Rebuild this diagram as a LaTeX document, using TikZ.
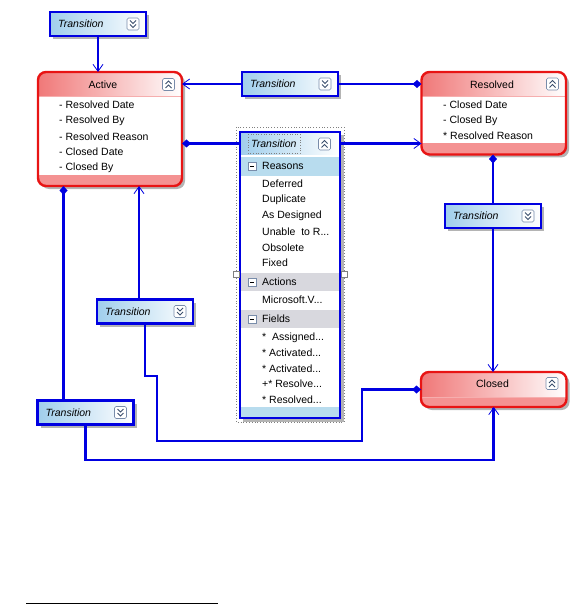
\documentclass[tikz,border=0pt]{standalone}
\usepackage{fontspec}
\setmainfont{Liberation Sans}
\usetikzlibrary{arrows.meta,shadows,fit}

\definecolor{lblue}{RGB}{0,0,225}
\definecolor{tblue}{RGB}{160,206,236}
\definecolor{sblue}{RGB}{184,220,238}
\definecolor{sgray}{RGB}{216,216,222}
\definecolor{rborder}{RGB}{232,20,20}
\definecolor{rhead}{RGB}{240,120,120}
\definecolor{rstrip}{RGB}{244,146,146}
\definecolor{shgray}{RGB}{180,180,180}
\definecolor{iconb}{RGB}{120,140,170}
\definecolor{chev}{RGB}{60,80,110}

% double chevron icon: x, y, direction (1 = down, (-1) = up)
\newcommand\chevicon[3]{%
  \draw[iconb, fill=white, rounded corners=1.5pt, line width=0.6pt]
    ({#1-6},{#2-6}) rectangle ({#1+6},{#2+6});
  \draw[chev, line width=0.9pt]
    ({#1-3},{#2-3.5*#3}) -- (#1,{#2-0.5*#3}) -- ({#1+3},{#2-3.5*#3});
  \draw[chev, line width=0.9pt]
    ({#1-3},{#2+0.5*#3}) -- (#1,{#2+3.5*#3}) -- ({#1+3},{#2+0.5*#3});
}
\newcommand\minusicon[2]{%
  \draw[iconb, fill=white, line width=0.6pt] ({#1-4},{#2-4}) rectangle ({#1+4},{#2+4});
  \draw[black, line width=0.8pt] ({#1-2},#2) -- ({#1+2},#2);
}
% state box: name, x1, y1, x2, y2, header bottom, strip top
\newcommand\statebox[7]{%
  \fill[shgray, rounded corners=8pt] ({#2+3},{#3+3}) rectangle ({#4+3},{#5+3});
  \fill[white, rounded corners=8pt] (#2,#3) rectangle (#4,#5);
  \begin{scope}
    \clip[rounded corners=8pt] (#2,#3) rectangle (#4,#5);
    \shade[left color=rhead, right color=white] (#2,#3) rectangle (#4,#6);
    \fill[rstrip] (#2,#7) rectangle (#4,#5);
    \draw[rhead!60, line width=0.6pt] (#2,#6) -- (#4,#6);
  \end{scope}
  \draw[rborder, line width=2.4pt, rounded corners=8pt] (#2,#3) rectangle (#4,#5);
  \node[fit={(#2,#3) (#4,#5)}, inner sep=0pt, outer sep=0pt] (#1) {};
}
% collapsed transition box: name, cx, cy
\newcommand\transbox[3]{%
  \node[tbox] (#1) at (#2,#3) {};
  \node[ttext, anchor=west] (#1-lbl) at ([xshift=8pt]#1.west) {Transition};
  \chevicon{#2+35}{#3}{1}
}

\tikzset{
  tbox/.style={draw=lblue, line width=2.2pt, left color=tblue, right color=white,
    minimum width=96pt, minimum height=24pt, inner sep=0pt, outer sep=0pt,
    drop shadow={shadow xshift=3pt, shadow yshift=-3pt, fill=shgray, opacity=1}},
  ttext/.style={font=\fontsize{10.5}{12}\selectfont\itshape, inner sep=0pt},
  txt/.style={inner sep=0pt, anchor=west},
  ttl/.style={inner sep=0pt},
  conn/.style={draw=lblue, line width=2.6pt},
  arr/.style={-{Straight Barb[length=7pt,width=10pt,line width=0.8pt]}},
  dstart/.style={arrows={Diamond[length=9pt,width=8pt]-}},
  dend/.style={arrows={-Diamond[length=9pt,width=8pt]}},
}

\begin{document}
\begin{tikzpicture}[x=1pt, y=-1pt, font=\fontsize{10.5}{12}\selectfont]
\useasboundingbox (0,0) rectangle (581,604);

% ---------- states ----------
\statebox{active}{38}{72}{182}{186}{96}{175}
\node[ttl] (activet) at (103,85) {Active};
\chevicon{168.5}{84.5}{(-1)}
\node[txt] (a1) at (59,105) {- Resolved Date};
\node[txt] (a2) at (59,120.7) {- Resolved By};
\node[txt] (a3) at (59,136.3) {- Resolved Reason};
\node[txt] (a4) at (59,152) {- Closed Date};
\node[txt] (a5) at (59,167.7) {- Closed By};

\statebox{resolved}{421.5}{72}{566}{154.5}{96}{143}
\node[ttl] (resolvedt) at (492,85) {Resolved};
\chevicon{552.5}{84}{(-1)}
\node[txt] (r1) at (443,104.5) {- Closed Date};
\node[txt] (r2) at (443,120.3) {- Closed By};
\node[txt] (r3) at (443,136) {* Resolved Reason};

\statebox{closed}{421}{372}{566.5}{407}{397}{397}
\node[ttl] (closedt) at (492.5,384) {Closed};
\chevicon{552}{383.5}{(-1)}

% ---------- expanded transition ----------
\draw[gray, dotted, line width=0.8pt] (236,127) rectangle (344,422);
\fill[shgray] (243,135) rectangle (343.5,421.5);
\fill[white] (240,132) rectangle (340,418);
\shade[left color=tblue, right color=white] (240,132) rectangle (340,155);
\fill[sblue] (240,157) rectangle (340,176);
\fill[sgray] (240,273) rectangle (340,291);
\fill[sgray] (240,310) rectangle (340,328);
\fill[sblue] (240,407) rectangle (340,418);
\node[fit={(240,132) (340,418)}, inner sep=0pt, outer sep=0pt, draw=lblue, line width=2.8pt] (tx) {};
\node[fit={(240,132) (340,155)}, inner sep=0pt, outer sep=0pt] (txh) {};
\draw[gray, dotted, line width=0.6pt] (248,134.5) rectangle (300,153);
\node[ttext, anchor=west] (txlbl) at (251,144) {Transition};
\chevicon{324.5}{144}{(-1)}
\draw[gray, fill=white, line width=0.5pt] (233,271) rectangle (239,277);
\draw[gray, fill=white, line width=0.5pt] (341,271) rectangle (347,277);

\minusicon{252}{166}
\node[txt] (s1) at (262,166) {Reasons};
\node[txt] (x1) at (262,183.5) {Deferred};
\node[txt] (x2) at (262,200) {Duplicate};
\node[txt] (x3) at (262,216) {As Designed};
\node[txt] (x4) at (262,231.5) {Unable\ \ to R...};
\node[txt] (x5) at (262,247.5) {Obsolete};
\node[txt] (x6) at (262,263) {Fixed};
\minusicon{252}{282}
\node[txt] (s2) at (262,282) {Actions};
\node[txt] (y1) at (262,300) {Microsoft.V...};
\minusicon{252}{319}
\node[txt] (s3) at (262,319) {Fields};
\node[txt] (z1) at (262,338) {*\ \ Assigned...};
\node[txt] (z2) at (262,353) {*\ Activated...};
\node[txt] (z3) at (262,368.5) {*\ Activated...};
\node[txt] (z4) at (262,384) {+*\ Resolve...};
\node[txt] (z5) at (262,399.5) {*\ Resolved...};

% ---------- collapsed transitions ----------
\transbox{t1}{98}{24}
\transbox{t2}{290}{84}
\transbox{t3}{493}{216}
\transbox{t4}{145}{311.5}
\transbox{t5}{85.5}{412.5}

% ---------- connectors ----------
\draw[conn,arr] (t1.south) -- (t1.south |- active.north);
\draw[conn,arr] (t2.west) -- (t2.west -| active.east);
\draw[conn,dstart] (t2.east -| resolved.west) -- (t2.east);
\draw[conn,dstart] (active.east |- txh.west) -- (txh.west);
\draw[conn,arr] (txh.east) -- (txh.east -| resolved.west);
\draw[conn,dstart] (resolved.south -| t3.north) -- (t3.north);
\draw[conn,arr] (t3.south) -- (t3.south |- closed.north);
\draw[conn,arr] ([xshift=-6pt]t4.north) -- ([xshift=-6pt]t4.north |- active.south);
\draw[conn,dend] (t4.south) |- (157,376) |- (362,441) |- (closed.west);
\draw[conn,dstart] ([xshift=-22pt]t5.north |- active.south) -- ([xshift=-22pt]t5.north);
\draw[conn,arr] (t5.south) |- ([yshift=-53pt]closed.south) -- (closed.south);

% footnote rule
\draw[black, line width=1pt] (26,603) -- (218,603);
\end{tikzpicture}
\end{document}
